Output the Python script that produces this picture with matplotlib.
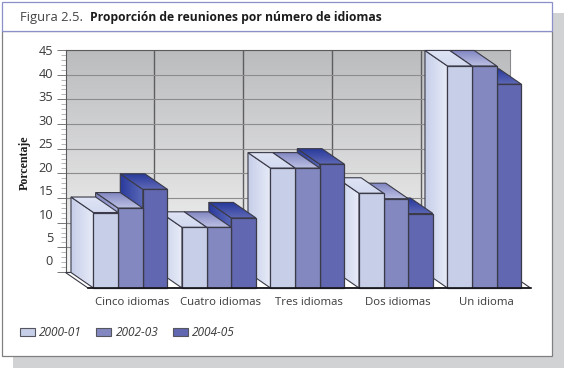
"""Figura 2.5: 3D-look grouped bars drawn by hand on two axes (wall and front plane)."""

import matplotlib

matplotlib.use("Agg")
import matplotlib.pyplot as plt  # noqa: E402
import numpy as np  # noqa: E402
from matplotlib.colors import to_rgb  # noqa: E402
from matplotlib.patches import Patch, Polygon, Rectangle  # noqa: E402

categories = ["Cinco idiomas", "Cuatro idiomas", "Tres idiomas", "Dos idiomas", "Un idioma"]
series_labels = ["2000-01", "2002-03", "2004-05"]
values_2000 = [15.3, 12.3, 24.3, 19.2, 45.0]
values_2002 = [16.2, 12.3, 24.3, 18.1, 45.0]
values_2004 = [20.0, 14.2, 25.1, 15.1, 41.3]
y_ticks = [0, 5, 10, 15, 20, 25, 30, 35, 40, 45]

W, H = 564, 368
FONT = "Open Sans"
TEXT = "#3a3a3c"

# per series: front, side (left, right of gradient), top (back, front of gradient)
styles = [
    ("#c7cfe8", "#c6cee9", "#e8ecf8", "#dfe4f5", "#d3daf0"),
    ("#8388c0", "#8388c0", "#a9aedb", "#8085c2", "#bcc0e2"),
    ("#6167b0", "#2a3a9c", "#5a68b8", "#26389a", "#5e68b6"),
]

# depth of the fake 3D, in data units of the front axes
DEPTH_X = 22.5 / 88.5
DEPTH_Y = 15.5 / 4.93
BAR_W = 0.2785
GROUP_START = 0.062
EDGE = "#3a3a48"


def axes_px(fig, left, top, right, bottom, **kw):
    return fig.add_axes([left / W, 1 - bottom / H, (right - left) / W, (bottom - top) / H], **kw)


def face(ax, verts, c0, c1, vertical, z):
    """Polygon filled with a two-colour gradient, with a thin outline."""
    verts = np.array(verts)
    t = np.linspace(0, 1, 64)[:, None]
    ramp = (1 - t) * np.array(to_rgb(c0)) + t * np.array(to_rgb(c1))
    img = ramp[:, None, :] if vertical else ramp[None, :, :]
    im = ax.imshow(
        img,
        extent=(verts[:, 0].min(), verts[:, 0].max(), verts[:, 1].min(), verts[:, 1].max()),
        origin="lower",
        aspect="auto",
        interpolation="bilinear",
        zorder=z,
    )
    poly = Polygon(verts, closed=True, fc="none", ec=EDGE, lw=0.8, zorder=z + 0.1, clip_on=False)
    ax.add_patch(poly)
    # faces stick out of the front axes, so the default clip to the axes box has to go
    im.set_clip_box(ax.figure.bbox)
    im.set_clip_path(poly)


fig = plt.figure(figsize=(W / 100, H / 100), dpi=100, facecolor="white")
plt.rcParams["font.family"] = [FONT, "DejaVu Sans"]

# page furniture: shadow, panel, title band
bg = fig.add_axes([0, 0, 1, 1], zorder=0)
bg.set_xlim(0, W)
bg.set_ylim(H, 0)
bg.axis("off")
bg.add_patch(Rectangle((13, 13), W - 13, H - 13, fc="#d1d2d4", ec="none"))
bg.add_patch(Rectangle((1.5, 31), 550.5, 325, fc="white", ec="#808082", lw=0.9))
bg.add_patch(Rectangle((1.5, 1.5), 550.5, 29.5, fc="white", ec="#8b90c8", lw=0.9))
bg.text(20, 18, "Figura 2.5.", fontsize=9.4, color="#444446", va="center", family=FONT)
bg.text(90, 18, "Proporción de reuniones por número de idiomas", fontsize=8.75, color="#1c1c1e",
        va="center", fontweight="bold", family=FONT)
bg.text(25, 163, "Porcentaje", fontsize=8.6, color="#1c1c1e", rotation=90, va="center", ha="center",
        fontweight="bold", family="Liberation Serif")

# back wall with the value scale
wall = axes_px(fig, 65.5, 50, 510, 272, zorder=1)
t = np.linspace(0, 1, 128)[:, None, None]
wall.imshow((1 - t) * np.array(to_rgb("#f6f6f6")) + t * np.array(to_rgb("#bbbcbe")),
            extent=(0, 5, 0, 45), origin="lower", aspect="auto", zorder=0)
wall.set_xlim(0, 5)
wall.set_ylim(0, 45)
wall.set_xticks(range(1, 5))
wall.set_yticks(y_ticks)
wall.set_yticks(range(0, 46), minor=True)
wall.grid(True, axis="y", color="#8c8c8e", lw=0.8)
wall.grid(True, axis="x", color="#5e5e60", lw=1.0)
wall.set_axisbelow(True)
wall.tick_params(axis="x", length=0, labelbottom=False)
wall.tick_params(axis="y", which="major", length=6.5, width=0.7, color="#777779", labelleft=False)
wall.tick_params(axis="y", which="minor", length=3.6, width=0.5, color="#9a9a9c")
for side in ("top", "left"):
    wall.spines[side].set_color("#5a5a5c")
wall.spines["right"].set_color("#8a8a8c")
wall.spines["bottom"].set_visible(False)
# the value labels sit a little off their ticks in the original
for v in y_ticks:
    wall.text(-0.028, v * 0.95 + 2.03, str(v), transform=wall.get_yaxis_transform(), ha="right",
              va="center", fontsize=9.2, color=TEXT, family=FONT)

# front plane: floor, bars, category labels
ax = axes_px(fig, 88, 66, 530.5, 288, zorder=2)
ax.patch.set_visible(False)
ax.add_patch(Polygon([(0, 0), (5, 0), (5 - DEPTH_X, DEPTH_Y), (-DEPTH_X, DEPTH_Y)], closed=True,
                     fc="white", ec=EDGE, lw=0.8, zorder=1, clip_on=False))

all_values = [values_2000, values_2002, values_2004]
z = 2
for c in reversed(range(len(categories))):
    for s in reversed(range(len(all_values))):
        v = all_values[s][c]
        x0 = c + GROUP_START + s * BAR_W
        x1 = x0 + BAR_W
        front, side0, side1, top0, top1 = styles[s]
        face(ax, [(x0 - DEPTH_X, DEPTH_Y), (x0, 0), (x0, v), (x0 - DEPTH_X, v + DEPTH_Y)],
             side0, side1, False, z)
        face(ax, [(x0, v), (x1, v), (x1 - DEPTH_X, v + DEPTH_Y), (x0 - DEPTH_X, v + DEPTH_Y)],
             top1, top0, True, z + 0.2)
        ax.add_patch(Rectangle((x0, 0), BAR_W, v, fc=front, ec=EDGE, lw=0.9, zorder=z + 0.4,
                               clip_on=False))
        z += 1

ax.set_xlim(0, 5)
ax.set_ylim(0, 45)
ax.set_xticks(np.arange(len(categories)) + 0.5)
ax.set_xticklabels(categories, fontsize=8.2, color=TEXT, family=FONT)
ax.tick_params(axis="x", length=0, pad=6.5)
ax.set_yticks([])
for side in ("top", "left", "right"):
    ax.spines[side].set_visible(False)
ax.spines["bottom"].set_color("#141418")
ax.spines["bottom"].set_linewidth(1.2)
ax.spines["bottom"].set_zorder(1000)

handles = [Patch(fc=st[0], ec="#55555f", lw=0.8) for st in styles]
fig.legend(handles, series_labels, loc="center left", bbox_to_anchor=(15 / W, 1 - 332.5 / H), ncols=3,
           frameon=False, handlelength=1.27, handleheight=0.62, handletextpad=0.36, columnspacing=1.2,
           prop={"family": FONT, "style": "italic", "size": 8.6}, labelcolor=TEXT, borderaxespad=0)

fig.savefig("out.png", dpi=100)
plt.close(fig)
